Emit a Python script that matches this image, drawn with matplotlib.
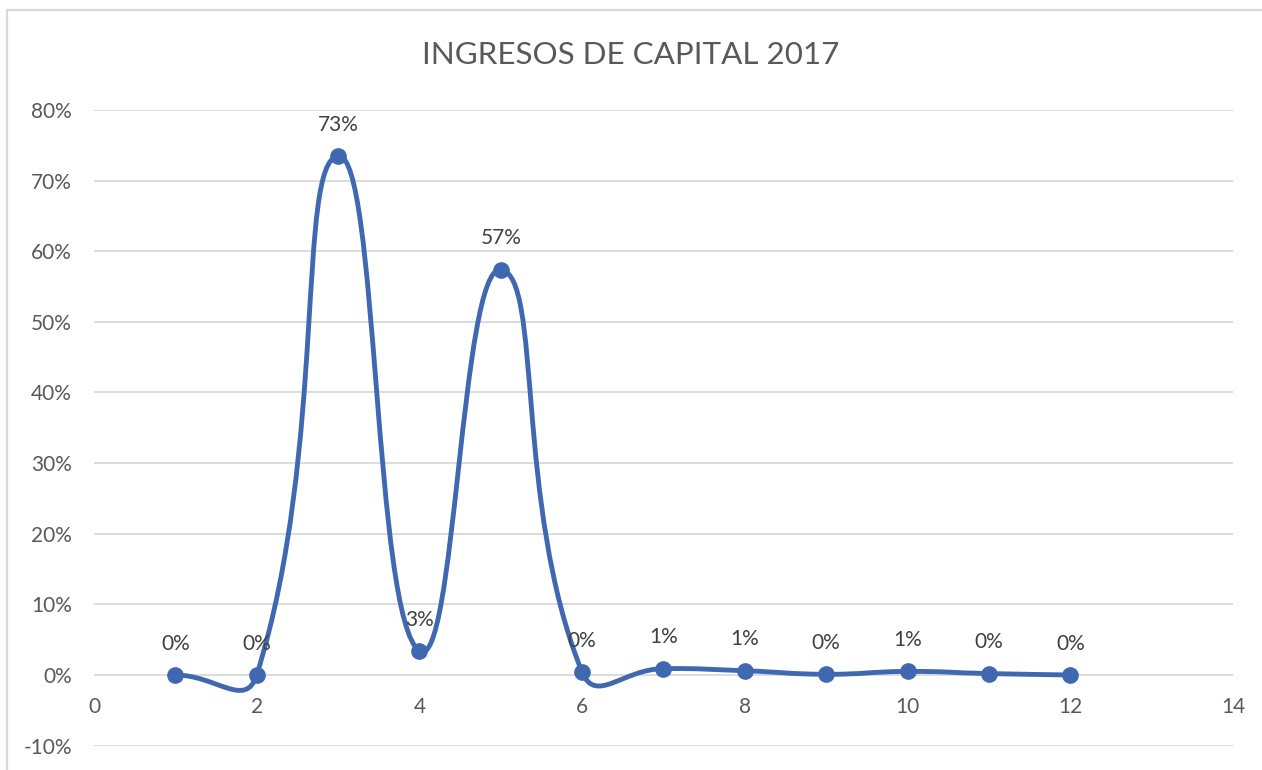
import numpy as np
import matplotlib
matplotlib.use("Agg")
from matplotlib import pyplot as plt
from matplotlib.path import Path
from matplotlib import patches

# data
months = [1, 2, 3, 4, 5, 6, 7, 8, 9, 10, 11, 12]
shares = [0.0, 0.0, 0.735, 0.034, 0.574, 0.004, 0.009, 0.006, 0.001, 0.005, 0.002, 0.0]
labels = ["0%", "0%", "73%", "3%", "57%", "0%", "1%", "1%", "0%", "1%", "0%", "0%"]
x_ticks = [0, 2, 4, 6, 8, 10, 12, 14]
y_ticks = [-0.1, 0, 0.1, 0.2, 0.3, 0.4, 0.5, 0.6, 0.7, 0.8]
title = "INGRESOS DE CAPITAL 2017"

plt.rcParams['font.family'] = ['Lato', 'DejaVu Sans']

W, H = 1262, 770
fig = plt.figure(figsize=(W / 100, H / 100), dpi=100)
ax = fig.add_axes([94 / W, 1 - 745.6 / H, (1233 - 94) / W, (745.6 - 110) / H])

# outer chart border (only top and left edges visible)
fig.patches.append(patches.Rectangle((7 / W, -0.1), 1.2, 1.1 - 10 / H, transform=fig.transFigure,
                                     fill=False, edgecolor="#d9d9d9", linewidth=1.6))

ax.set_xlim(0, 14)
ax.set_ylim(-0.1, 0.8)
ax.set_xticks(x_ticks)
ax.set_yticks(y_ticks)
ax.set_yticklabels([f"{round(v * 100)}%" for v in y_ticks])
for s in ["top", "right", "left"]:
    ax.spines[s].set_visible(False)
ax.spines["bottom"].set_position(("data", 0))
ax.spines["bottom"].set_visible(False)
ax.tick_params(axis="both", length=0, labelsize=15, labelcolor="#595959")
ax.tick_params(axis="y", pad=16)
ax.tick_params(axis="x", pad=16)
ax.yaxis.grid(True, color="#d9d9d9", linewidth=1.3)
ax.set_axisbelow(True)

# smoothed line like the spreadsheet: bezier segments, built in display space
pts = ax.transData.transform(np.column_stack([months, shares]))
n = len(pts)
verts = [pts[0]]
codes = [Path.MOVETO]
for i in range(n - 1):
    p0 = pts[max(i - 1, 0)]
    p1 = pts[i]
    p2 = pts[i + 1]
    p3 = pts[min(i + 2, n - 1)]
    d01 = np.hypot(*(p1 - p0))
    d12 = np.hypot(*(p2 - p1))
    d23 = np.hypot(*(p3 - p2))
    c1 = p1 + (p2 - p0) * 0.5 * d12 / (d01 + d12)
    c2 = p2 - (p3 - p1) * 0.5 * d12 / (d12 + d23)
    verts += [c1, c2, p2]
    codes += [Path.CURVE4] * 3
verts = ax.transData.inverted().transform(np.array(verts))
path = Path(verts, codes)
ax.add_patch(patches.PathPatch(path, fill=False, edgecolor="#4068B0", linewidth=3.5,
                               capstyle="round", joinstyle="round", zorder=3))
ax.plot(months, shares, linestyle="none", marker="o", markersize=11,
        color="#4068B0", zorder=4)

for m, v, lab in zip(months, shares, labels):
    ax.annotate(lab, (m, v), xytext=(0, 22.5), textcoords="offset points",
                ha="center", va="center", fontsize=15, color="#404040", zorder=5)

fig.text(0.5, 1 - 55 / H, title, ha="center", va="center", fontsize=22.6, color="#595959")

fig.savefig("out.png", dpi=100)
